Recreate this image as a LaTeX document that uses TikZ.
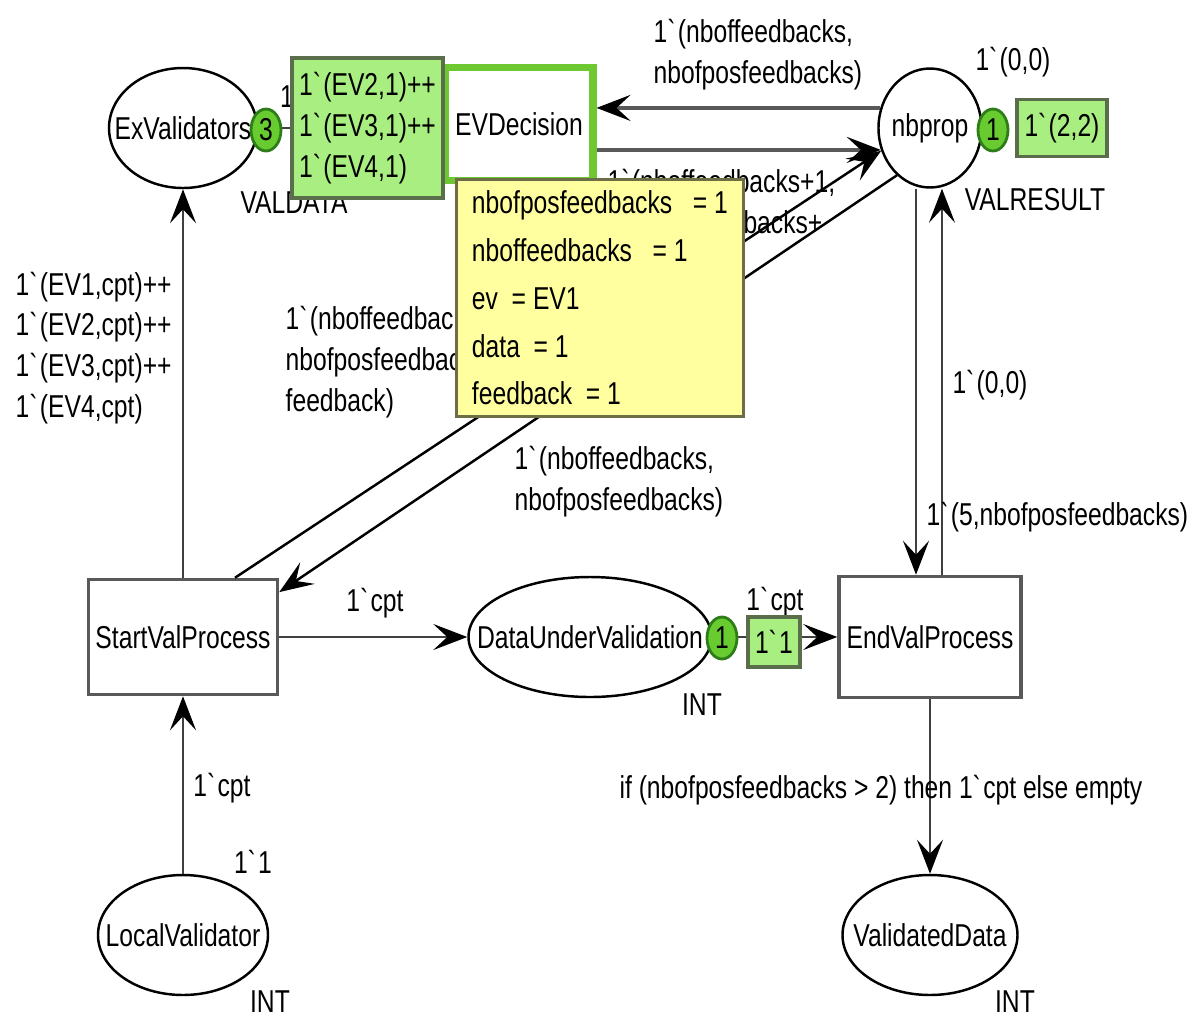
\documentclass[tikz,border=0pt]{standalone}
\usepackage{fontspec}
\setmainfont{Liberation Sans}[FakeStretch=0.78]
\usepackage{tikz}
\usetikzlibrary{arrows.meta, shapes.geometric}

\definecolor{tokfill}{RGB}{104,204,48}
\definecolor{tokedge}{RGB}{45,125,25}
\definecolor{markfill}{RGB}{168,238,128}
\definecolor{markedge}{RGB}{90,110,75}
\definecolor{evgreen}{RGB}{110,200,50}
\definecolor{bindfill}{RGB}{255,255,160}
\definecolor{bindedge}{RGB}{110,110,70}
\newcommand{\bqt}{\textasciigrave}

\begin{document}
\begin{tikzpicture}[
    font=\fontsize{9}{11.6}\selectfont,
    place/.style={ellipse, draw=black, line width=0.7pt, fill=white, minimum height=1.2cm, inner sep=0pt},
    transition/.style={rectangle, draw=black!65, line width=1pt, fill=white, inner sep=1pt},
    token/.style={ellipse, draw=tokedge, line width=0.8pt, fill=tokfill, minimum width=3mm, minimum height=4.2mm, inner sep=0pt},
    markbox/.style={rectangle, draw=markedge, line width=1pt, fill=markfill, inner sep=1pt, align=left},
    bindbox/.style={rectangle, draw=bindedge, line width=0.8pt, fill=bindfill, inner sep=1pt, align=left, font=\fontsize{9}{13.6}\selectfont},
    lbl/.style={inner sep=0pt, align=left},
    flow/.style={->, draw=black!75, line width=0.7pt},
    >={Stealth[length=3.4mm, width=2.6mm, inset=1.4mm, color=black]}
  ]
  \useasboundingbox (0,0) rectangle (11.94,-10.18);

  % Places
  \node[place, minimum width=1.48cm, label=center:ExValidators] (ExValidators) at (1.83,-1.28) {};
  \node[place, minimum width=1.03cm, minimum height=1.19cm, label=center:nbprop] (nbprop) at (9.30,-1.28) {};
  \node[place, minimum width=2.43cm, label=center:DataUnderValidation] (DataUnderValidation) at (5.90,-6.37) {};
  \node[place, minimum width=1.70cm, label=center:LocalValidator] (LocalValidator) at (1.83,-9.35) {};
  \node[place, minimum width=1.75cm, label=center:ValidatedData] (ValidatedData) at (9.30,-9.35) {};

  % Transitions (EVDecision is enabled)
  \node[transition, minimum width=1.48cm, minimum height=1.13cm, draw=evgreen, line width=2pt] (EVDecision) at (5.19,-1.24) {EVDecision};
  \node[transition, minimum width=1.89cm, minimum height=1.15cm] (StartValProcess) at (1.83,-6.37) {StartValProcess};
  \node[transition, minimum width=1.82cm, minimum height=1.21cm] (EndValProcess) at (9.30,-6.37) {EndValProcess};

  % Arcs
  \draw[flow] (ExValidators.east) -- (EVDecision.west |- ExValidators.east);
  \draw[flow] (StartValProcess) -- (ExValidators);
  \draw[flow] (LocalValidator) -- (StartValProcess);
  \draw[flow] (StartValProcess) -- (DataUnderValidation);
  \draw[flow] (DataUnderValidation) -- (EndValProcess);
  \draw[flow] (EndValProcess) -- (ValidatedData);
  \draw[flow] ([xshift=-1.4mm]nbprop.south) -- ([xshift=-1.4mm]EndValProcess.north);
  \draw[flow] ([xshift=1.2mm]EndValProcess.north) -- ([xshift=1.2mm]nbprop.south);
  \draw[flow, line width=1.1pt, draw=black!65] (nbprop.158) -- (EVDecision.east |- nbprop.158);
  \draw[flow, line width=1.1pt, draw=black!65] (EVDecision.east |- nbprop.204) -- (nbprop.204);
  \draw[flow, draw=black] ([xshift=5.2mm]StartValProcess.north) -- (nbprop.205);
  \draw[flow, draw=black] (nbprop.235) -- (StartValProcess.25);

  % Arc inscriptions
  \node[lbl, anchor=west] (lblStartEx) at (0.15,-3.48) {1\bqt(EV1,cpt)++\\1\bqt(EV2,cpt)++\\1\bqt(EV3,cpt)++\\1\bqt(EV4,cpt)};
  \node[lbl, anchor=west] (lblStartNb) at (2.85,-3.62) {1\bqt(nboffeedbacks,\\nbofposfeedbacks,\\feedback)};
  \node[lbl, anchor=west] (lblEVNb) at (6.07,-2.25) {1\bqt(nboffeedbacks+1,\\nbofposfeedbacks+\\feedback)};
  \node[lbl, anchor=west] (lblNbEV) at (6.53,-0.55) {1\bqt(nboffeedbacks,\\nbofposfeedbacks)};
  \node[lbl, anchor=west] (lblNbStart) at (5.14,-4.82) {1\bqt(nboffeedbacks,\\nbofposfeedbacks)};
  \node[lbl] (lblStartDUV) at (3.75,-6.03) {1\bqt{}cpt};
  \node[lbl] (lblDUVEnd) at (7.75,-6.02) {1\bqt{}cpt};
  \node[lbl] (lblLocStart) at (2.22,-7.88) {1\bqt{}cpt};
  \node[lbl] (lblEndNb) at (9.90,-3.85) {1\bqt(0,0)};
  \node[lbl, anchor=west] (lblNbEnd) at (9.26,-5.17) {1\bqt(5,nbofposfeedbacks)};
  \node[lbl] (lblEndVal) at (8.81,-7.90) {if (nbofposfeedbacks > 2) then 1\bqt{}cpt else empty};
  \node[lbl] (lblExEV) at (2.87,-0.97) {1};

  % Colour sets and initial markings
  \node[lbl] (csExV) at (2.94,-2.03) {VALDATA};
  \node[lbl] (csNb) at (10.35,-2.00) {VALRESULT};
  \node[lbl] (csDUV) at (7.02,-7.05) {INT};
  \node[lbl] (csLoc) at (2.70,-10.02) {INT};
  \node[lbl] (csVal) at (10.15,-10.02) {INT};
  \node[lbl] (initNb) at (10.13,-0.62) {1\bqt(0,0)};
  \node[lbl] (initLoc) at (2.53,-8.62) {1\bqt{}1};

  % Current markings
  \node[token] (tokExV) at (2.66,-1.30) {3};
  \node[token] (tokNb) at (9.93,-1.30) {1};
  \node[token] (tokDUV) at (7.22,-6.38) {1};
  \node[markbox, minimum width=1.51cm, minimum height=1.40cm] (markExV) at (3.675,-1.28) {1\bqt(EV2,1)++\\1\bqt(EV3,1)++\\1\bqt(EV4,1)};
  \node[markbox, minimum width=0.90cm, minimum height=0.57cm] (markNb) at (10.62,-1.28) {1\bqt(2,2)};
  \node[markbox, minimum width=0.52cm, minimum height=0.50cm] (markDUV) at (7.74,-6.42) {1\bqt{}1};

  % Binding of EVDecision
  \node[bindbox, anchor=north west, minimum width=2.87cm, minimum height=2.37cm] (binding) at (4.55,-1.78)
    {nbofposfeedbacks\ \ \ = 1\\nboffeedbacks\ \ \ = 1\\ev\ \ = EV1\\data\ \ = 1\\feedback\ \ = 1};
\end{tikzpicture}
\end{document}
